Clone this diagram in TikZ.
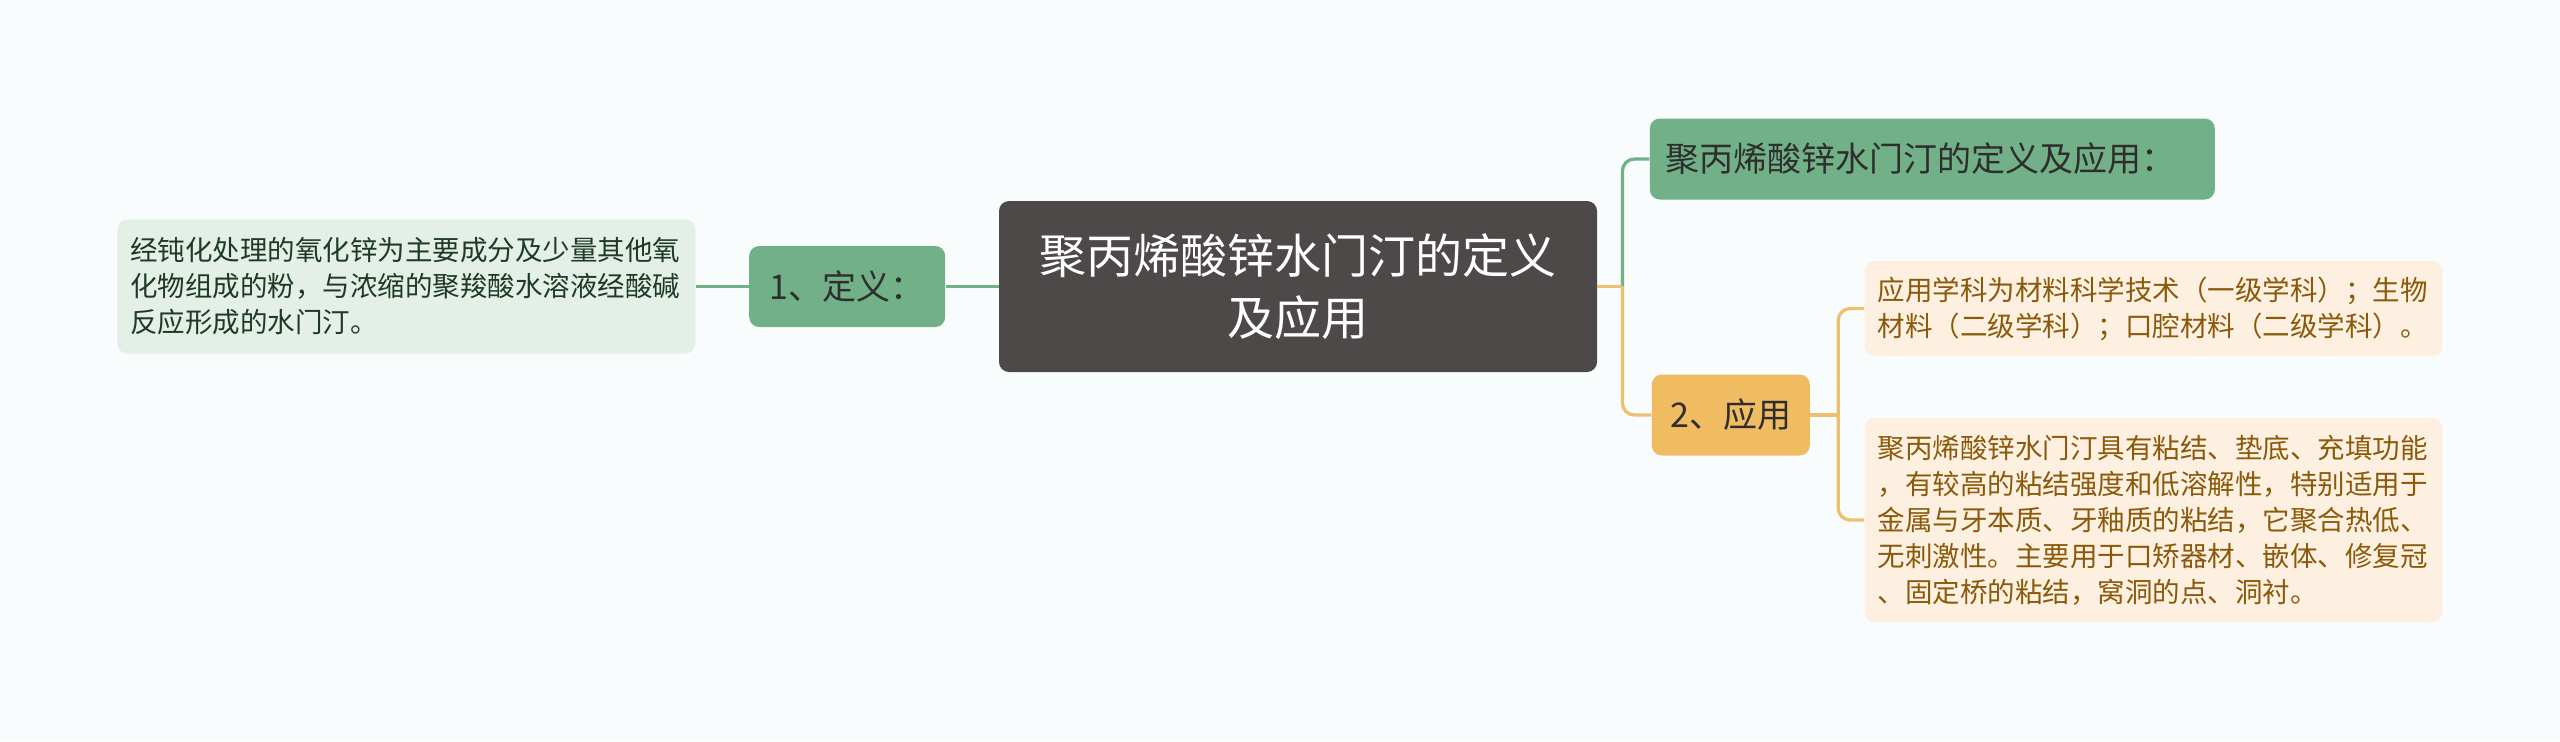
\documentclass[tikz,border=0pt]{standalone}
\usepackage{fontspec}
\newfontfamily\cjk{Noto Sans CJK SC}
\usepackage{tikz}
\usetikzlibrary{positioning}
\definecolor{bgcol}{RGB}{248,252,253}
\definecolor{rootcol}{RGB}{78,73,73}
\definecolor{greencol}{RGB}{114,176,136}
\definecolor{greenleaf}{RGB}{228,239,231}
\definecolor{greentext}{RGB}{30,58,38}
\definecolor{orangecol}{RGB}{240,188,98}
\definecolor{orangeleaf}{RGB}{253,240,225}
\definecolor{orangetext}{RGB}{138,90,11}
\definecolor{orangeline}{RGB}{237,192,112}
\tikzstyle{rootbox} = [
	fill=rootcol,
	rounded corners=5pt,
	text=white,
	font=\cjk\fontsize{23.5pt}{31pt}\selectfont,
	align=center,
	minimum width=299pt,
	minimum height=85.5pt
]
\tikzstyle{branch} = [
	rounded corners=5pt,
	text=black!82,
	font=\cjk\fontsize{17pt}{20pt}\selectfont,
	minimum height=40.5pt
]
\tikzstyle{leaf} = [
	rounded corners=5pt,
	font=\cjk\fontsize{13.75pt}{18pt}\selectfont,
	align=left,
	text width=276pt,
	inner xsep=6.5pt
]
\tikzstyle{gline} = [draw=greencol, line width=1.6pt]
\tikzstyle{oline} = [draw=orangeline, line width=1.6pt]

\begin{document}
\begin{tikzpicture}[x=0.5pt, y=-0.5pt]
	\fill[bgcol] (0,0) rectangle (2560,741);
	\node[rootbox, name = root] at (1298,286.5) {聚丙烯酸锌水门汀的定义\\及应用};
	\node[branch, fill=greencol, name = DEF, left = 26.5pt of root, minimum width=98pt] {1、定义：};
	\node[leaf, fill=greenleaf, text=greentext, name = DEFTXT, left = 26.5pt of DEF, minimum height=67pt] {经钝化处理的氧化锌为主要成分及少量其他氧\\化物组成的粉，与浓缩的聚羧酸水溶液经酸碱\\反应形成的水门汀。};
	\node[branch, fill=greencol, name = TOP, right = 26pt of root, yshift = 63.75pt, minimum width=282.5pt, align=left, text width=267pt, inner xsep=7.75pt] {聚丙烯酸锌水门汀的定义及应用：};
	\node[branch, fill=orangecol, name = APP, right = 27pt of root, yshift = -64.25pt, minimum width=79pt] {2、应用};
	\node[leaf, fill=orangeleaf, text=orangetext, name = USE, right = 27pt of APP, yshift = 53.25pt, minimum height=47.5pt] {应用学科为材料科学技术（一级学科）；生物\\材料（二级学科）；口腔材料（二级学科）。};
	\node[leaf, fill=orangeleaf, text=orangetext, name = PROP, right = 27pt of APP, yshift = -52.5pt, minimum height=102pt] {聚丙烯酸锌水门汀具有粘结、垫底、充填功能\\，有较高的粘结强度和低溶解性，特别适用于\\金属与牙本质、牙釉质的粘结，它聚合热低、\\无刺激性。主要用于口矫器材、嵌体、修复冠\\、固定桥的粘结，窝洞的点、洞衬。};

	\draw[gline] (root.west) -- (DEF.east);
	\draw[gline] (DEF.west) -- (DEFTXT.east);
	\draw[gline, rounded corners=6pt] (root.east) ++(25,0) |- (TOP.west);
	\draw[oline] (root.east) -- ++(25,0);
	\draw[oline, rounded corners=6pt] (root.east) ++(25,0) |- (APP.west);
	\draw[oline] (APP.east) -- ++(28,0);
	\draw[oline, rounded corners=6pt] (APP.east) ++(28,0) |- (USE.west);
	\draw[oline, rounded corners=6pt] (APP.east) ++(28,0) |- (PROP.west);

\end{tikzpicture}
\end{document}
